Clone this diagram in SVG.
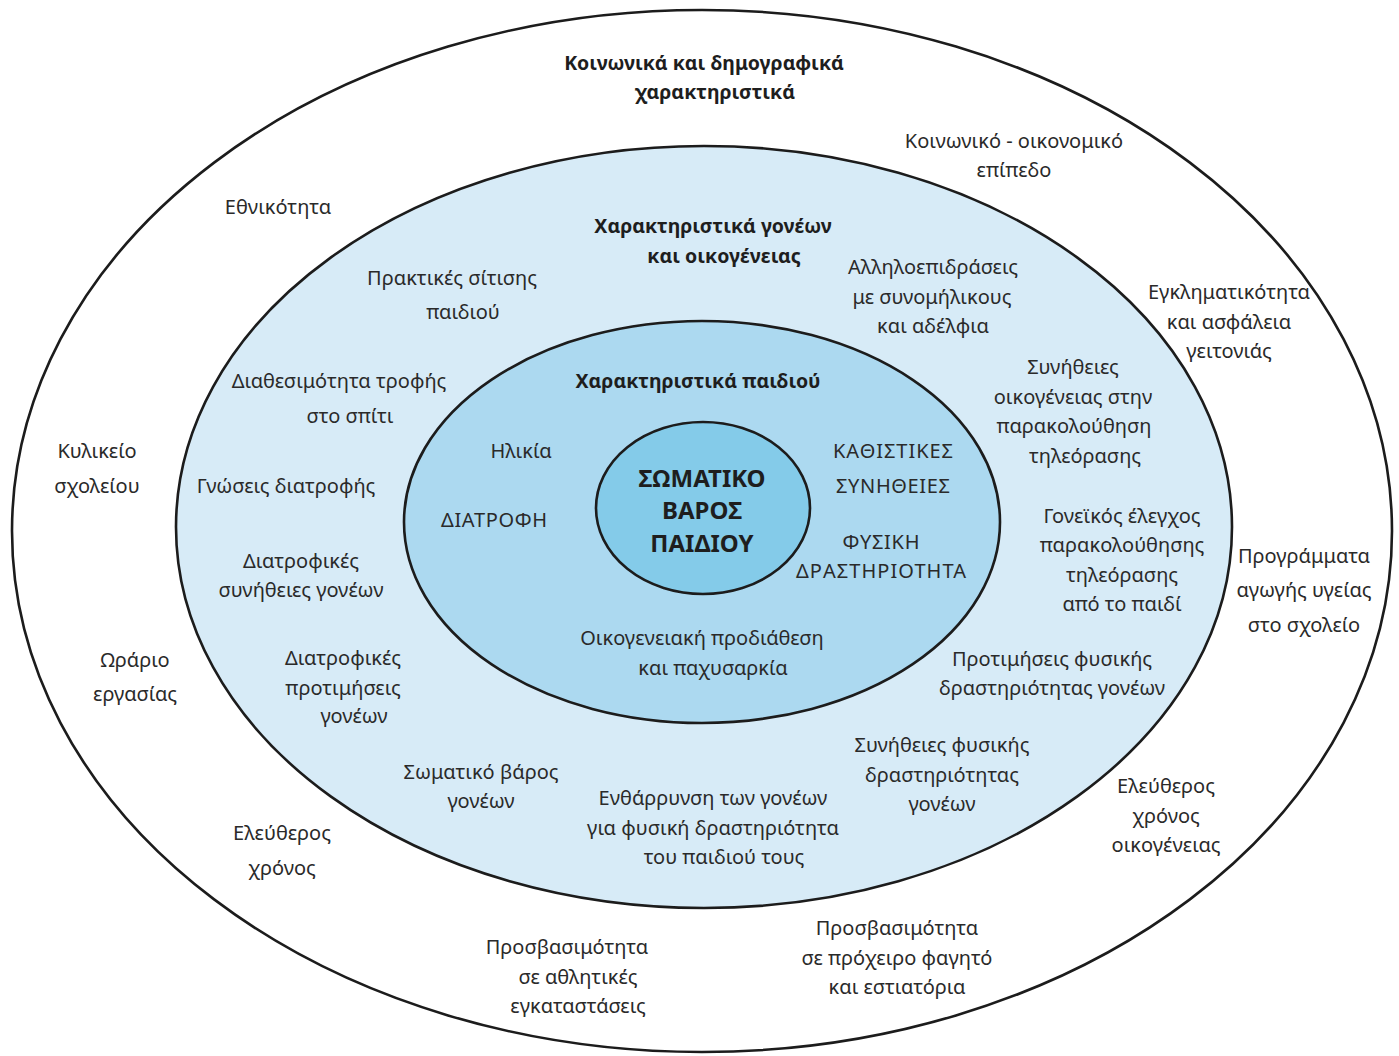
<svg xmlns="http://www.w3.org/2000/svg" width="1399" height="1056" viewBox="0 0 1399 1056">
<style>
.ring{stroke:#1c1c1c;stroke-width:2.6}
text{font-family:"Noto Sans","DejaVu Sans",sans-serif;fill:#2a2a2a;text-anchor:middle}
.t{font-size:20px}
.h{font-size:19.5px;font-weight:bold;fill:#1e1e1e}
.c{font-size:24px;font-weight:bold;fill:#1e1e1e}
</style>
<rect width="1399" height="1056" fill="#ffffff"/>
<g id="ring-outer">
<ellipse class="ring" cx="702" cy="531" rx="690" ry="521" fill="#ffffff"/>
<text class="h" x="704" y="70">Κοινωνικά και δημογραφικά</text>
<text class="h" x="715" y="99">χαρακτηριστικά</text>
<text class="t" x="1014" y="148">Κοινωνικό - οικονομικό</text>
<text class="t" x="1014" y="177">επίπεδο</text>
<text class="t" x="278" y="214">Εθνικότητα</text>
<text class="t" x="1229" y="299">Εγκληματικότητα</text>
<text class="t" x="1229" y="329">και ασφάλεια</text>
<text class="t" x="1229" y="358">γειτονιάς</text>
<text class="t" x="97" y="458">Κυλικείο</text>
<text class="t" x="97" y="493">σχολείου</text>
<text class="t" x="1304" y="563">Προγράμματα</text>
<text class="t" x="1304" y="597">αγωγής υγείας</text>
<text class="t" x="1304" y="632">στο σχολείο</text>
<text class="t" x="135" y="667">Ωράριο</text>
<text class="t" x="135" y="701">εργασίας</text>
<text class="t" x="282" y="840">Ελεύθερος</text>
<text class="t" x="282" y="875">χρόνος</text>
<text class="t" x="1166" y="793">Ελεύθερος</text>
<text class="t" x="1166" y="823">χρόνος</text>
<text class="t" x="1166" y="852">οικογένειας</text>
<text class="t" x="567" y="954">Προσβασιμότητα</text>
<text class="t" x="578" y="984">σε αθλητικές</text>
<text class="t" x="578" y="1013">εγκαταστάσεις</text>
<text class="t" x="897" y="935">Προσβασιμότητα</text>
<text class="t" x="897" y="965">σε πρόχειρο φαγητό</text>
<text class="t" x="897" y="994">και εστιατόρια</text>
</g>
<g id="ring-parents">
<ellipse class="ring" cx="704" cy="527" rx="528" ry="381" fill="#d7ebf7"/>
<text class="h" x="713" y="233">Χαρακτηριστικά γονέων</text>
<text class="h" x="724" y="263">και οικογένειας</text>
<text class="t" x="452" y="285">Πρακτικές σίτισης</text>
<text class="t" x="463" y="319">παιδιού</text>
<text class="t" x="933" y="274">Αλληλοεπιδράσεις</text>
<text class="t" x="932" y="304">με συνομήλικους</text>
<text class="t" x="933" y="333">και αδέλφια</text>
<text class="t" x="339" y="388">Διαθεσιμότητα τροφής</text>
<text class="t" x="350" y="423">στο σπίτι</text>
<text class="t" x="1073" y="374">Συνήθειες</text>
<text class="t" x="1073" y="404">οικογένειας στην</text>
<text class="t" x="1074" y="433">παρακολούθηση</text>
<text class="t" x="1085" y="463">τηλεόρασης</text>
<text class="t" x="286" y="493">Γνώσεις διατροφής</text>
<text class="t" x="1122" y="523">Γονεϊκός έλεγχος</text>
<text class="t" x="1122" y="552">παρακολούθησης</text>
<text class="t" x="1122" y="582">τηλεόρασης</text>
<text class="t" x="1122" y="611">από το παιδί</text>
<text class="t" x="301" y="568">Διατροφικές</text>
<text class="t" x="301" y="597">συνήθειες γονέων</text>
<text class="t" x="343" y="665">Διατροφικές</text>
<text class="t" x="343" y="695">προτιμήσεις</text>
<text class="t" x="354" y="723">γονέων</text>
<text class="t" x="1052" y="666">Προτιμήσεις φυσικής</text>
<text class="t" x="1052" y="695">δραστηριότητας γονέων</text>
<text class="t" x="481" y="779">Σωματικό βάρος</text>
<text class="t" x="481" y="808">γονέων</text>
<text class="t" x="942" y="752">Συνήθειες φυσικής</text>
<text class="t" x="942" y="782">δραστηριότητας</text>
<text class="t" x="942" y="811">γονέων</text>
<text class="t" x="713" y="805">Ενθάρρυνση των γονέων</text>
<text class="t" x="713" y="835">για φυσική δραστηριότητα</text>
<text class="t" x="724" y="864">του παιδιού τους</text>
</g>
<g id="ring-child">
<ellipse class="ring" cx="702" cy="522" rx="298" ry="201" fill="#acd9f0"/>
<text class="h" x="698" y="388">Χαρακτηριστικά παιδιού</text>
<text class="t" x="521" y="458">Ηλικία</text>
<text class="t" x="494" y="527" textLength="106" lengthAdjust="spacing">ΔΙΑΤΡΟΦΗ</text>
<text class="t" x="893" y="458" textLength="120" lengthAdjust="spacing">ΚΑΘΙΣΤΙΚΕΣ</text>
<text class="t" x="893" y="493" textLength="114" lengthAdjust="spacing">ΣΥΝΗΘΕΙΕΣ</text>
<text class="t" x="881" y="549" textLength="77" lengthAdjust="spacing">ΦΥΣΙΚΗ</text>
<text class="t" x="881" y="578" textLength="170" lengthAdjust="spacing">ΔΡΑΣΤΗΡΙΟΤΗΤΑ</text>
<text class="t" x="702" y="645">Οικογενειακή προδιάθεση</text>
<text class="t" x="713" y="675">και παχυσαρκία</text>
</g>
<g id="core">
<ellipse class="ring" cx="703" cy="508" rx="107" ry="86" fill="#84cbe9"/>
<text class="c" x="702" y="487">ΣΩΜΑΤΙΚΟ</text>
<text class="c" x="702" y="519">ΒΑΡΟΣ</text>
<text class="c" x="702" y="552">ΠΑΙΔΙΟΥ</text>
</g>
<g id="connectors"/>
</svg>
